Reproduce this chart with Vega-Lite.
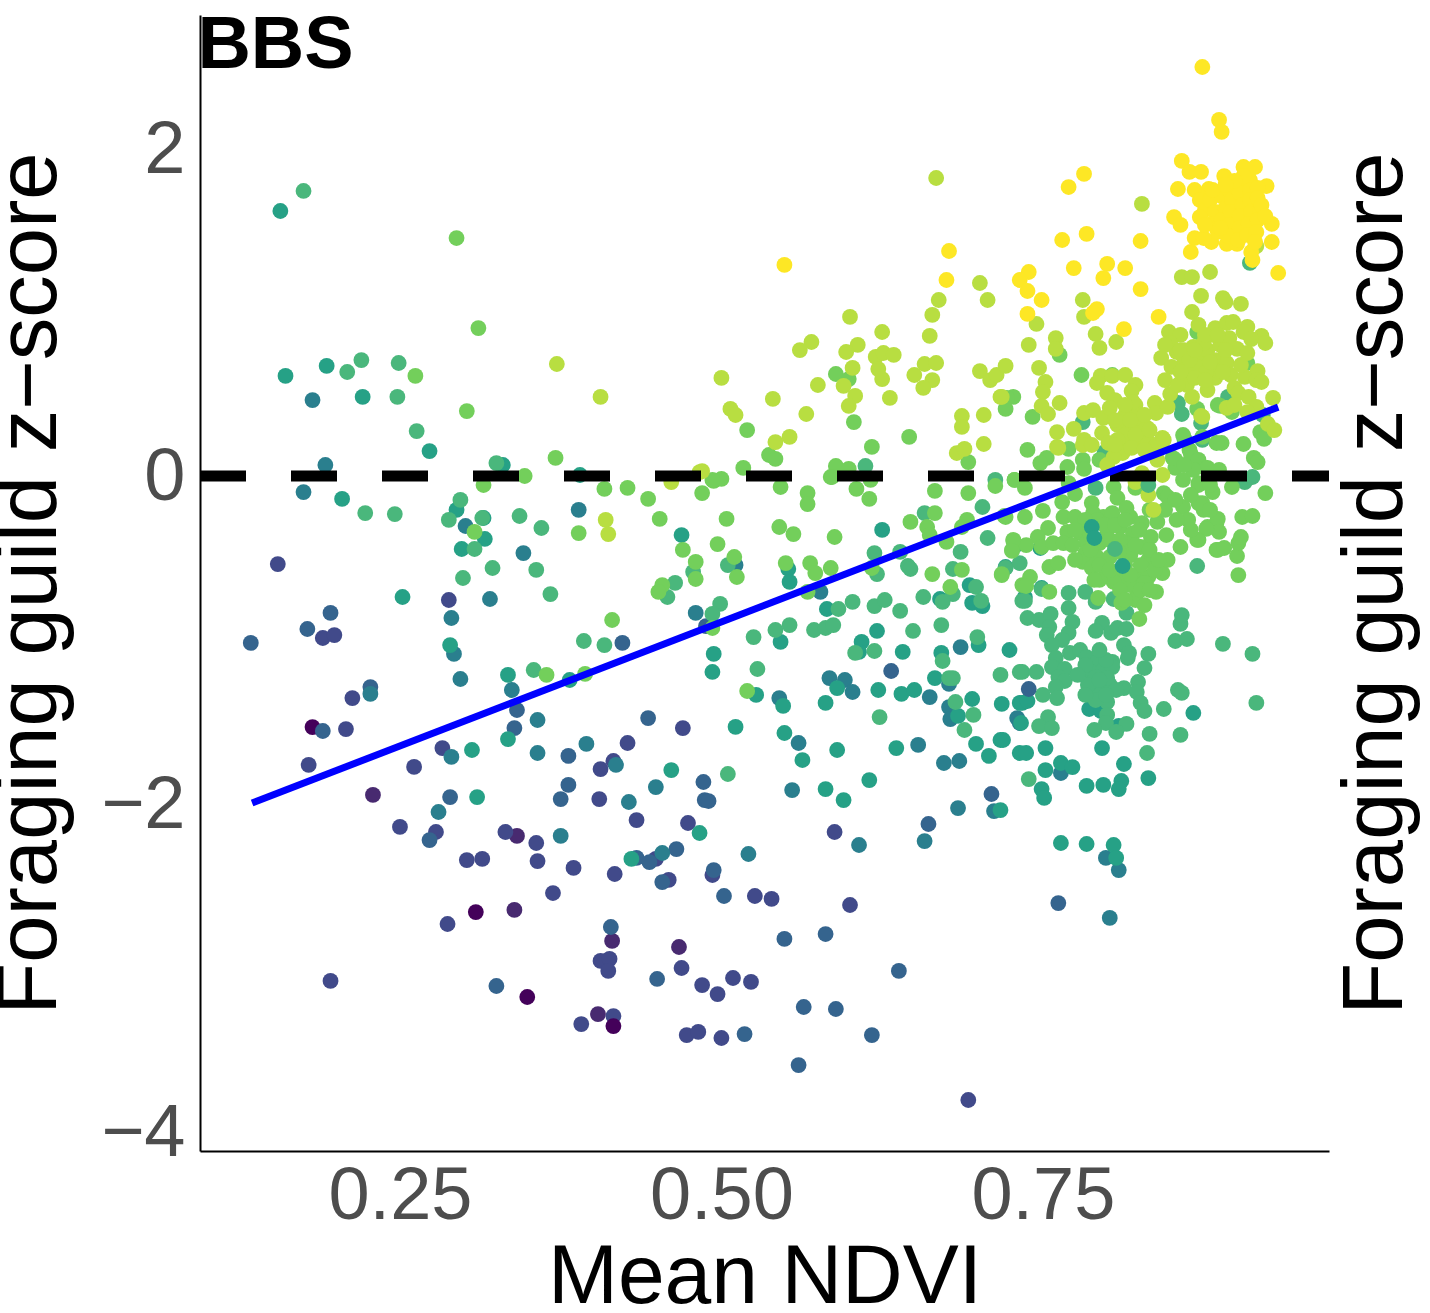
{"$schema":"https://vega.github.io/schema/vega-lite/v6.json","width":1129,"height":1136,"autosize":"none","padding":{"left":200,"top":15,"right":101,"bottom":162},"background":"white","config":{"view":{"stroke":null},"font":"Liberation Sans"},"resolve":{"scale":{"y":"independent"}},"layer":[{"data":{"values":[
{"x":0.182,"y":-1.531,"c":0},{"x":0.309,"y":-2.659,"c":0},{"x":0.349,"y":-3.177,"c":0},
{"x":0.229,"y":-1.945,"c":0.1},{"x":0.341,"y":-2.195,"c":0.1},{"x":0.339,"y":-2.646,"c":0.1},{"x":0.415,"y":-2.835,"c":0.1},{"x":0.467,"y":-2.872,"c":0.1},{"x":0.404,"y":-3.281,"c":0.1},
{"x":0.155,"y":-0.537,"c":0.2},{"x":0.19,"y":-0.988,"c":0.2},{"x":0.199,"y":-0.97,"c":0.2},{"x":0.288,"y":-0.756,"c":0.2},{"x":0.213,"y":-1.354,"c":0.2},{"x":0.208,"y":-1.543,"c":0.2},{"x":0.179,"y":-1.762,"c":0.2},{"x":0.283,"y":-1.659,"c":0.2},{"x":0.261,"y":-1.774,"c":0.2},{"x":0.416,"y":-1.738,"c":0.2},{"x":0.406,"y":-1.787,"c":0.2},{"x":0.405,"y":-1.97,"c":0.2},{"x":0.25,"y":-2.14,"c":0.2},{"x":0.278,"y":-2.171,"c":0.2},{"x":0.332,"y":-2.171,"c":0.2},{"x":0.356,"y":-2.238,"c":0.2},{"x":0.302,"y":-2.342,"c":0.2},{"x":0.314,"y":-2.335,"c":0.2},{"x":0.357,"y":-2.348,"c":0.2},{"x":0.385,"y":-2.39,"c":0.2},{"x":0.434,"y":-2.098,"c":0.2},{"x":0.474,"y":-2.116,"c":0.2},{"x":0.417,"y":-2.427,"c":0.2},{"x":0.449,"y":-2.335,"c":0.2},{"x":0.459,"y":-2.463,"c":0.2},{"x":0.369,"y":-2.543,"c":0.2},{"x":0.287,"y":-2.732,"c":0.2},{"x":0.406,"y":-2.957,"c":0.2},{"x":0.413,"y":-2.945,"c":0.2},{"x":0.412,"y":-3.018,"c":0.2},{"x":0.469,"y":-3.0,"c":0.2},{"x":0.196,"y":-3.079,"c":0.2},{"x":0.416,"y":-3.293,"c":0.2},{"x":0.391,"y":-3.342,"c":0.2},{"x":0.473,"y":-3.409,"c":0.2},{"x":0.482,"y":-3.39,"c":0.2},{"x":0.485,"y":-3.104,"c":0.2},{"x":0.497,"y":-3.159,"c":0.2},{"x":0.509,"y":-3.061,"c":0.2},{"x":0.523,"y":-3.085,"c":0.2},{"x":0.5,"y":-3.427,"c":0.2},{"x":0.6,"y":-2.616,"c":0.2},{"x":0.526,"y":-2.561,"c":0.2},{"x":0.539,"y":-2.579,"c":0.2},{"x":0.692,"y":-3.805,"c":0.2},{"x":0.47,"y":-1.537,"c":0.2},{"x":0.427,"y":-1.628,"c":0.2},{"x":0.588,"y":-2.171,"c":0.2},{"x":0.493,"y":-2.433,"c":0.2},
{"x":0.416,"y":-3.354,"c":0},
{"x":0.196,"y":-0.835,"c":0.3},{"x":0.178,"y":-0.933,"c":0.3},{"x":0.134,"y":-1.018,"c":0.3},{"x":0.227,"y":-1.287,"c":0.3},{"x":0.19,"y":-1.555,"c":0.3},{"x":0.423,"y":-1.018,"c":0.3},{"x":0.341,"y":-1.427,"c":0.3},{"x":0.339,"y":-1.537,"c":0.3},{"x":0.381,"y":-1.707,"c":0.3},{"x":0.381,"y":-1.884,"c":0.3},{"x":0.375,"y":-1.97,"c":0.3},{"x":0.289,"y":-1.958,"c":0.3},{"x":0.273,"y":-2.22,"c":0.3},{"x":0.434,"y":-2.329,"c":0.3},{"x":0.444,"y":-2.354,"c":0.3},{"x":0.465,"y":-2.275,"c":0.3},{"x":0.454,"y":-2.476,"c":0.3},{"x":0.414,"y":-2.75,"c":0.3},{"x":0.45,"y":-3.067,"c":0.3},{"x":0.325,"y":-3.11,"c":0.3},{"x":0.518,"y":-3.403,"c":0.3},{"x":0.564,"y":-3.238,"c":0.3},{"x":0.589,"y":-3.25,"c":0.3},{"x":0.617,"y":-3.409,"c":0.3},{"x":0.56,"y":-3.592,"c":0.3},{"x":0.638,"y":-3.018,"c":0.3},{"x":0.549,"y":-2.823,"c":0.3},{"x":0.581,"y":-2.793,"c":0.3},{"x":0.502,"y":-2.561,"c":0.3},{"x":0.494,"y":-2.403,"c":0.3},{"x":0.443,"y":-1.476,"c":0.3},{"x":0.486,"y":-1.866,"c":0.3},{"x":0.487,"y":-1.976,"c":0.3},{"x":0.49,"y":-1.982,"c":0.3},{"x":0.632,"y":-1.189,"c":0.3},{"x":0.488,"y":-0.915,"c":0.3},{"x":0.661,"y":-2.122,"c":0.3},{"x":0.71,"y":-1.939,"c":0.3},{"x":0.762,"y":-2.604,"c":0.3},
{"x":0.175,"y":-0.098,"c":0.43},{"x":0.182,"y":0.463,"c":0.43},{"x":0.192,"y":0.067,"c":0.43},{"x":0.301,"y":-0.305,"c":0.43},{"x":0.346,"y":-0.47,"c":0.43},{"x":0.389,"y":-0.207,"c":0.43},{"x":0.32,"y":-0.75,"c":0.43},{"x":0.29,"y":-0.866,"c":0.43},{"x":0.292,"y":-1.085,"c":0.43},{"x":0.297,"y":-1.238,"c":0.43},{"x":0.227,"y":-1.329,"c":0.43},{"x":0.337,"y":-1.305,"c":0.43},{"x":0.357,"y":-1.488,"c":0.43},{"x":0.29,"y":-1.713,"c":0.43},{"x":0.357,"y":-1.689,"c":0.43},{"x":0.395,"y":-1.634,"c":0.43},{"x":0.418,"y":-1.762,"c":0.43},{"x":0.28,"y":-2.049,"c":0.43},{"x":0.375,"y":-2.195,"c":0.43},{"x":0.454,"y":-2.299,"c":0.43},{"x":0.577,"y":-0.707,"c":0.43},{"x":0.48,"y":-0.835,"c":0.43},{"x":0.511,"y":-0.543,"c":0.43},{"x":0.545,"y":-1.354,"c":0.43},{"x":0.56,"y":-1.628,"c":0.43},{"x":0.555,"y":-1.915,"c":0.43},{"x":0.584,"y":-1.232,"c":0.43},{"x":0.596,"y":-1.244,"c":0.43},{"x":0.602,"y":-1.317,"c":0.43},{"x":0.662,"y":-1.348,"c":0.43},{"x":0.677,"y":-1.268,"c":0.43},{"x":0.677,"y":-1.409,"c":0.43},{"x":0.678,"y":-1.482,"c":0.43},{"x":0.686,"y":-1.043,"c":0.43},{"x":0.653,"y":-1.64,"c":0.43},{"x":0.685,"y":-1.738,"c":0.43},{"x":0.673,"y":-1.75,"c":0.43},{"x":0.73,"y":-1.476,"c":0.43},{"x":0.732,"y":-1.506,"c":0.43},{"x":0.449,"y":-1.897,"c":0.43},{"x":0.428,"y":-1.988,"c":0.43},{"x":0.521,"y":-2.305,"c":0.43},{"x":0.607,"y":-2.25,"c":0.43},{"x":0.658,"y":-2.226,"c":0.43},{"x":0.684,"y":-2.025,"c":0.43},{"x":0.712,"y":-2.043,"c":0.43},{"x":0.764,"y":-1.811,"c":0.43},{"x":0.799,"y":-2.329,"c":0.43},{"x":0.809,"y":-2.403,"c":0.43},{"x":0.802,"y":-2.695,"c":0.43},
{"x":0.157,"y":1.616,"c":0.55},{"x":0.161,"y":0.61,"c":0.55},{"x":0.193,"y":0.671,"c":0.55},{"x":0.221,"y":0.482,"c":0.55},{"x":0.273,"y":0.152,"c":0.55},{"x":0.205,"y":-0.14,"c":0.55},{"x":0.294,"y":-0.207,"c":0.55},{"x":0.315,"y":-0.256,"c":0.55},{"x":0.316,"y":-0.384,"c":0.55},{"x":0.298,"y":-0.445,"c":0.55},{"x":0.252,"y":-0.738,"c":0.55},{"x":0.289,"y":-1.031,"c":0.55},{"x":0.334,"y":-1.213,"c":0.55},{"x":0.382,"y":-1.244,"c":0.55},{"x":0.334,"y":-1.604,"c":0.55},{"x":0.306,"y":-1.671,"c":0.55},{"x":0.31,"y":-1.958,"c":0.55},{"x":0.39,"y":0.006,"c":0.55},{"x":0.33,"y":0.067,"c":0.55},{"x":0.469,"y":-0.36,"c":0.55},{"x":0.552,"y":-0.567,"c":0.55},{"x":0.553,"y":-0.646,"c":0.55},{"x":0.494,"y":-1.085,"c":0.55},{"x":0.493,"y":-1.195,"c":0.55},{"x":0.546,"y":-1.012,"c":0.55},{"x":0.527,"y":-1.335,"c":0.55},{"x":0.582,"y":-0.811,"c":0.55},{"x":0.621,"y":-0.945,"c":0.55},{"x":0.609,"y":-1.012,"c":0.55},{"x":0.607,"y":-1.073,"c":0.55},{"x":0.641,"y":-1.073,"c":0.55},{"x":0.625,"y":-0.329,"c":0.55},{"x":0.67,"y":-0.75,"c":0.55},{"x":0.695,"y":-0.774,"c":0.55},{"x":0.693,"y":-0.665,"c":0.55},{"x":0.703,"y":-0.793,"c":0.55},{"x":0.7,"y":-1.031,"c":0.55},{"x":0.671,"y":-1.079,"c":0.55},{"x":0.724,"y":-1.061,"c":0.55},{"x":0.59,"y":-1.293,"c":0.55},{"x":0.581,"y":-1.384,"c":0.55},{"x":0.622,"y":-1.305,"c":0.55},{"x":0.64,"y":-1.329,"c":0.55},{"x":0.65,"y":-1.305,"c":0.55},{"x":0.666,"y":-1.232,"c":0.55},{"x":0.548,"y":-1.402,"c":0.55},{"x":0.695,"y":-1.36,"c":0.55},{"x":0.684,"y":-1.463,"c":0.55},{"x":0.718,"y":-1.39,"c":0.55},{"x":0.732,"y":-1.384,"c":0.55},{"x":0.511,"y":-1.53,"c":0.55},{"x":0.549,"y":-1.567,"c":0.55},{"x":0.563,"y":-1.732,"c":0.55},{"x":0.59,"y":-1.671,"c":0.55},{"x":0.636,"y":-1.659,"c":0.55},{"x":0.698,"y":-1.634,"c":0.55},{"x":0.717,"y":-1.61,"c":0.55},{"x":0.708,"y":-1.707,"c":0.55},{"x":0.732,"y":-1.689,"c":0.55},{"x":0.461,"y":-1.793,"c":0.55},{"x":0.581,"y":-1.909,"c":0.55},{"x":0.595,"y":-1.976,"c":0.55},{"x":0.615,"y":-1.854,"c":0.55},{"x":0.483,"y":-2.177,"c":0.55},{"x":0.43,"y":-2.335,"c":0.55},{"x":0.729,"y":-0.421,"c":0.55},{"x":0.734,"y":-1.384,"c":0.55},{"x":0.738,"y":-1.372,"c":0.55},{"x":0.786,"y":-1.421,"c":0.55},{"x":0.795,"y":-1.433,"c":0.55},{"x":0.809,"y":-1.524,"c":0.55},{"x":0.733,"y":-1.506,"c":0.55},{"x":0.748,"y":-0.439,"c":0.55},{"x":0.721,"y":-0.555,"c":0.55},{"x":0.867,"y":-1.445,"c":0.55},{"x":0.796,"y":-1.659,"c":0.55},{"x":0.813,"y":-1.756,"c":0.55},{"x":0.737,"y":-1.689,"c":0.55},{"x":0.752,"y":-1.659,"c":0.55},{"x":0.719,"y":-1.61,"c":0.55},{"x":0.764,"y":-1.75,"c":0.55},{"x":0.773,"y":-1.775,"c":0.55},{"x":0.752,"y":-1.793,"c":0.55},{"x":0.832,"y":-1.842,"c":0.55},{"x":0.749,"y":-1.909,"c":0.55},{"x":0.751,"y":-1.963,"c":0.55},{"x":0.784,"y":-1.89,"c":0.55},{"x":0.797,"y":-1.884,"c":0.55},{"x":0.811,"y":-1.86,"c":0.55},{"x":0.809,"y":-1.909,"c":0.55},{"x":0.717,"y":-2.037,"c":0.55},{"x":0.764,"y":-2.238,"c":0.55},{"x":0.784,"y":-2.244,"c":0.55},{"x":0.805,"y":-2.25,"c":0.55},{"x":0.807,"y":-2.329,"c":0.55},{"x":0.749,"y":-0.683,"c":0.55},{"x":0.736,"y":-0.738,"c":0.55},
{"x":0.175,"y":1.738,"c":0.68},{"x":0.209,"y":0.634,"c":0.68},{"x":0.22,"y":0.707,"c":0.68},{"x":0.249,"y":0.689,"c":0.68},{"x":0.248,"y":0.482,"c":0.68},{"x":0.263,"y":0.274,"c":0.68},{"x":0.325,"y":0.079,"c":0.68},{"x":0.223,"y":-0.226,"c":0.68},{"x":0.246,"y":-0.232,"c":0.68},{"x":0.297,"y":-0.146,"c":0.68},{"x":0.288,"y":-0.268,"c":0.68},{"x":0.308,"y":-0.445,"c":0.68},{"x":0.343,"y":-0.244,"c":0.68},{"x":0.36,"y":-0.317,"c":0.68},{"x":0.322,"y":-0.561,"c":0.68},{"x":0.356,"y":-0.573,"c":0.68},{"x":0.299,"y":-0.622,"c":0.68},{"x":0.367,"y":-0.72,"c":0.68},{"x":0.314,"y":-0.256,"c":0.68},{"x":0.354,"y":-1.183,"c":0.68},{"x":0.393,"y":-1.006,"c":0.68},{"x":0.409,"y":-1.031,"c":0.68},{"x":0.478,"y":-0.585,"c":0.68},{"x":0.505,"y":-0.543,"c":0.68},{"x":0.464,"y":-0.652,"c":0.68},{"x":0.458,"y":-0.738,"c":0.68},{"x":0.499,"y":-0.78,"c":0.68},{"x":0.493,"y":-0.841,"c":0.68},{"x":0.525,"y":-0.982,"c":0.68},{"x":0.542,"y":-0.939,"c":0.68},{"x":0.553,"y":-0.909,"c":0.68},{"x":0.528,"y":-1.177,"c":0.68},{"x":0.591,"y":-0.811,"c":0.68},{"x":0.602,"y":-0.768,"c":0.68},{"x":0.572,"y":-0.939,"c":0.68},{"x":0.581,"y":-0.927,"c":0.68},{"x":0.587,"y":-0.909,"c":0.68},{"x":0.619,"y":-0.793,"c":0.68},{"x":0.627,"y":-0.756,"c":0.68},{"x":0.639,"y":-0.823,"c":0.68},{"x":0.604,"y":-1.079,"c":0.68},{"x":0.619,"y":-1.067,"c":0.68},{"x":0.649,"y":-0.945,"c":0.68},{"x":0.671,"y":-0.909,"c":0.68},{"x":0.657,"y":-0.738,"c":0.68},{"x":0.619,"y":-0.47,"c":0.68},{"x":0.639,"y":-0.463,"c":0.68},{"x":0.621,"y":-0.598,"c":0.68},{"x":0.645,"y":-0.549,"c":0.68},{"x":0.647,"y":-0.567,"c":0.68},{"x":0.658,"y":-0.226,"c":0.68},{"x":0.703,"y":-0.189,"c":0.68},{"x":0.707,"y":-0.378,"c":0.68},{"x":0.686,"y":-0.463,"c":0.68},{"x":0.68,"y":-0.567,"c":0.68},{"x":0.721,"y":-0.561,"c":0.68},{"x":0.732,"y":-0.531,"c":0.68},{"x":0.698,"y":-0.677,"c":0.68},{"x":0.68,"y":-0.72,"c":0.68},{"x":0.672,"y":-0.768,"c":0.68},{"x":0.702,"y":-0.762,"c":0.68},{"x":0.734,"y":-0.762,"c":0.68},{"x":0.699,"y":-0.982,"c":0.68},{"x":0.672,"y":-1.128,"c":0.68},{"x":0.677,"y":-1.232,"c":0.68},{"x":0.68,"y":-1.232,"c":0.68},{"x":0.717,"y":-1.213,"c":0.68},{"x":0.732,"y":-1.195,"c":0.68},{"x":0.682,"y":-1.378,"c":0.68},{"x":0.696,"y":-1.457,"c":0.68},{"x":0.623,"y":-1.47,"c":0.68},{"x":0.689,"y":-1.549,"c":0.68},{"x":0.505,"y":-1.817,"c":0.68},{"x":0.833,"y":-1.573,"c":0.68},
{"x":0.749,"y":-0.689,"c":0.68},{"x":0.77,"y":-0.713,"c":0.68},{"x":0.783,"y":-0.707,"c":0.68},{"x":0.791,"y":-0.768,"c":0.68},{"x":0.805,"y":-0.75,"c":0.68},{"x":0.815,"y":-0.835,"c":0.68},{"x":0.736,"y":-0.762,"c":0.68},{"x":0.77,"y":-0.805,"c":0.68},{"x":0.738,"y":-0.866,"c":0.68},{"x":0.747,"y":-0.878,"c":0.68},{"x":0.756,"y":-0.841,"c":0.68},{"x":0.755,"y":-0.921,"c":0.68},{"x":0.773,"y":-0.89,"c":0.68},{"x":0.796,"y":-0.896,"c":0.68},{"x":0.791,"y":-0.945,"c":0.68},{"x":0.803,"y":-0.957,"c":0.68},{"x":0.808,"y":-0.927,"c":0.68},{"x":0.815,"y":-0.933,"c":0.68},{"x":0.77,"y":-0.957,"c":0.68},{"x":0.753,"y":-0.97,"c":0.68},{"x":0.765,"y":-1.0,"c":0.68},{"x":0.757,"y":-1.031,"c":0.68},{"x":0.771,"y":-1.079,"c":0.68},{"x":0.779,"y":-1.061,"c":0.68},{"x":0.784,"y":-1.104,"c":0.68},{"x":0.813,"y":-1.031,"c":0.68},{"x":0.817,"y":-1.079,"c":0.68},{"x":0.816,"y":-1.11,"c":0.68},{"x":0.832,"y":-1.085,"c":0.68},{"x":0.829,"y":-1.171,"c":0.68},{"x":0.76,"y":-1.11,"c":0.68},{"x":0.757,"y":-1.165,"c":0.68},{"x":0.767,"y":-1.177,"c":0.68},{"x":0.792,"y":-1.134,"c":0.68},{"x":0.804,"y":-1.134,"c":0.68},{"x":0.787,"y":-1.195,"c":0.68},{"x":0.797,"y":-1.183,"c":0.68},{"x":0.804,"y":-1.165,"c":0.68},{"x":0.734,"y":-1.195,"c":0.68},{"x":0.745,"y":-1.195,"c":0.68},{"x":0.762,"y":-1.226,"c":0.68},{"x":0.767,"y":-1.25,"c":0.68},{"x":0.76,"y":-1.287,"c":0.68},{"x":0.789,"y":-1.262,"c":0.68},{"x":0.802,"y":-1.274,"c":0.68},{"x":0.793,"y":-1.323,"c":0.68},{"x":0.791,"y":-1.226,"c":0.68},{"x":0.8,"y":-1.232,"c":0.68},{"x":0.813,"y":-1.293,"c":0.68},{"x":0.824,"y":-1.256,"c":0.68},{"x":0.823,"y":-1.317,"c":0.68},{"x":0.75,"y":-1.335,"c":0.68},{"x":0.761,"y":-1.354,"c":0.68},{"x":0.8,"y":-1.378,"c":0.68},{"x":0.826,"y":-1.384,"c":0.68},{"x":0.829,"y":-1.433,"c":0.68},{"x":0.754,"y":-1.47,"c":0.68},{"x":0.747,"y":-1.525,"c":0.68},{"x":0.757,"y":-1.537,"c":0.68},{"x":0.8,"y":-1.457,"c":0.68},{"x":0.799,"y":-1.506,"c":0.68},{"x":0.815,"y":-1.512,"c":0.68},{"x":0.79,"y":-1.549,"c":0.68},{"x":0.807,"y":-1.561,"c":0.68},{"x":0.857,"y":-1.579,"c":0.68},{"x":0.844,"y":-1.421,"c":0.68},{"x":0.855,"y":-1.305,"c":0.68},{"x":0.858,"y":-1.323,"c":0.68},{"x":0.916,"y":-1.384,"c":0.68},{"x":0.913,"y":-1.085,"c":0.68},{"x":0.89,"y":-1.024,"c":0.68},{"x":0.853,"y":-1.006,"c":0.68},{"x":0.862,"y":-0.994,"c":0.68},{"x":0.857,"y":-0.902,"c":0.68},{"x":0.858,"y":-0.848,"c":0.68},{"x":0.87,"y":-0.549,"c":0.68},{"x":0.907,"y":-0.037,"c":0.68},{"x":0.831,"y":-1.689,"c":0.68},{"x":0.739,"y":-1.848,"c":0.68},{"x":0.612,"y":0.061,"c":0.68},{"x":0.713,"y":-0.024,"c":0.68},{"x":0.781,"y":0.329,"c":0.68},{"x":0.858,"y":0.378,"c":0.68},{"x":0.855,"y":0.445,"c":0.68},{"x":0.894,"y":0.482,"c":0.68},{"x":0.873,"y":0.323,"c":0.68},{"x":0.921,"y":0.372,"c":0.68},{"x":0.86,"y":0.226,"c":0.68},{"x":0.874,"y":0.22,"c":0.68},{"x":0.791,"y":-0.073,"c":0.68},{"x":0.798,"y":0.146,"c":0.68},{"x":0.913,"y":-0.006,"c":0.68},{"x":0.911,"y":1.299,"c":0.68},
{"x":0.783,"y":-1.153,"c":0.68},{"x":0.791,"y":-1.305,"c":0.68},{"x":0.799,"y":-1.122,"c":0.68},{"x":0.796,"y":-1.317,"c":0.68},{"x":0.785,"y":-1.274,"c":0.68},{"x":0.807,"y":-1.305,"c":0.68},{"x":0.794,"y":-1.244,"c":0.68},{"x":0.791,"y":-1.366,"c":0.68},{"x":0.799,"y":-1.335,"c":0.68},{"x":0.783,"y":-1.335,"c":0.68},{"x":0.794,"y":-1.061,"c":0.68},{"x":0.777,"y":-1.213,"c":0.68},
{"x":0.294,"y":1.451,"c":0.8},{"x":0.311,"y":0.902,"c":0.8},{"x":0.262,"y":0.61,"c":0.8},{"x":0.302,"y":0.396,"c":0.8},{"x":0.371,"y":0.11,"c":0.8},{"x":0.315,"y":-0.055,"c":0.8},{"x":0.347,"y":0,"c":0.8},{"x":0.409,"y":-0.079,"c":0.8},{"x":0.308,"y":-0.341,"c":0.8},{"x":0.389,"y":-0.348,"c":0.8},{"x":0.364,"y":-1.213,"c":0.8},{"x":0.394,"y":-1.207,"c":0.8},{"x":0.415,"y":-0.878,"c":0.8},{"x":0.427,"y":-0.073,"c":0.8},{"x":0.443,"y":-0.14,"c":0.8},{"x":0.452,"y":-0.262,"c":0.8},{"x":0.485,"y":-0.104,"c":0.8},{"x":0.494,"y":-0.03,"c":0.8},{"x":0.5,"y":-0.018,"c":0.8},{"x":0.47,"y":-0.451,"c":0.8},{"x":0.497,"y":-0.415,"c":0.8},{"x":0.504,"y":-0.262,"c":0.8},{"x":0.48,"y":-0.524,"c":0.8},{"x":0.48,"y":-0.628,"c":0.8},{"x":0.51,"y":-0.494,"c":0.8},{"x":0.512,"y":-0.616,"c":0.8},{"x":0.454,"y":-0.665,"c":0.8},{"x":0.451,"y":-0.707,"c":0.8},{"x":0.493,"y":-0.927,"c":0.8},{"x":0.52,"y":-1.311,"c":0.8},{"x":0.545,"y":-0.311,"c":0.8},{"x":0.556,"y":-0.354,"c":0.8},{"x":0.588,"y":-0.372,"c":0.8},{"x":0.546,"y":-0.067,"c":0.8},{"x":0.567,"y":-0.104,"c":0.8},{"x":0.567,"y":-0.171,"c":0.8},{"x":0.585,"y":-0.006,"c":0.8},{"x":0.605,"y":-0.079,"c":0.8},{"x":0.615,"y":-0.14,"c":0.8},{"x":0.616,"y":-0.024,"c":0.8},{"x":0.55,"y":-0.531,"c":0.8},{"x":0.569,"y":-0.531,"c":0.8},{"x":0.573,"y":-0.592,"c":0.8},{"x":0.585,"y":-0.561,"c":0.8},{"x":0.567,"y":-0.707,"c":0.8},{"x":0.617,"y":-0.561,"c":0.8},{"x":0.664,"y":-0.598,"c":0.8},{"x":0.647,"y":-0.28,"c":0.8},{"x":0.666,"y":-0.226,"c":0.8},{"x":0.66,"y":-0.311,"c":0.8},{"x":0.662,"y":-0.36,"c":0.8},{"x":0.675,"y":-0.402,"c":0.8},{"x":0.666,"y":-0.091,"c":0.8},{"x":0.692,"y":-0.104,"c":0.8},{"x":0.713,"y":-0.061,"c":0.8},{"x":0.728,"y":-0.024,"c":0.8},{"x":0.721,"y":-0.25,"c":0.8},{"x":0.691,"y":-0.268,"c":0.8},{"x":0.687,"y":-0.311,"c":0.8},{"x":0.687,"y":-0.573,"c":0.8},{"x":0.727,"y":-0.396,"c":0.8},{"x":0.726,"y":-0.451,"c":0.8},{"x":0.718,"y":-0.598,"c":0.8},{"x":0.678,"y":-0.677,"c":0.8},{"x":0.734,"y":-0.665,"c":0.8},{"x":0.589,"y":0.622,"c":0.8},{"x":0.599,"y":0.591,"c":0.8},{"x":0.603,"y":0.329,"c":0.8},{"x":0.646,"y":0.238,"c":0.8},{"x":0.617,"y":0.177,"c":0.8},{"x":0.537,"y":0.128,"c":0.8},{"x":0.542,"y":0.104,"c":0.8},{"x":0.52,"y":0.28,"c":0.8},{"x":0.517,"y":0.049,"c":0.8},{"x":0.589,"y":0.061,"c":0.8},{"x":0.599,"y":0.043,"c":0.8},{"x":0.586,"y":-0.006,"c":0.8},{"x":0.493,"y":-0.024,"c":0.8},{"x":0.692,"y":0.085,"c":0.8},{"x":0.87,"y":0.878,"c":0.8},{"x":0.763,"y":0.738,"c":0.8},{"x":0.78,"y":0.616,"c":0.8},{"x":0.804,"y":0.616,"c":0.8},{"x":0.727,"y":0.482,"c":0.8},{"x":0.722,"y":0.476,"c":0.8},{"x":0.721,"y":0.409,"c":0.8},{"x":0.742,"y":0.36,"c":0.8},{"x":0.77,"y":0.165,"c":0.8},{"x":0.738,"y":0.159,"c":0.8},{"x":0.864,"y":0.628,"c":0.8},{"x":0.909,"y":0.689,"c":0.8},{"x":0.888,"y":0.427,"c":0.8},{"x":0.897,"y":0.39,"c":0.8},{"x":0.87,"y":0.409,"c":0.8},{"x":0.919,"y":0.268,"c":0.8},{"x":0.922,"y":0.226,"c":0.8},{"x":0.889,"y":0.201,"c":0.8},{"x":0.906,"y":0.195,"c":0.8},{"x":0.864,"y":0.159,"c":0.8},
{"x":0.781,"y":0.098,"c":0.8},{"x":0.782,"y":0.043,"c":0.8},{"x":0.794,"y":0.098,"c":0.8},{"x":0.769,"y":0.055,"c":0.8},{"x":0.753,"y":0.11,"c":0.8},{"x":0.748,"y":0.079,"c":0.8},{"x":0.728,"y":-0.024,"c":0.8},{"x":0.736,"y":-0.073,"c":0.8},{"x":0.77,"y":-0.043,"c":0.8},{"x":0.775,"y":-0.11,"c":0.8},{"x":0.765,"y":-0.159,"c":0.8},{"x":0.75,"y":-0.213,"c":0.8},{"x":0.736,"y":-0.25,"c":0.8},{"x":0.805,"y":-0.067,"c":0.8},{"x":0.808,"y":-0.134,"c":0.8},{"x":0.788,"y":-0.165,"c":0.8},{"x":0.815,"y":-0.195,"c":0.8},{"x":0.822,"y":-0.073,"c":0.8},{"x":0.844,"y":-0.104,"c":0.8},{"x":0.853,"y":0.098,"c":0.8},{"x":0.865,"y":0.134,"c":0.8},{"x":0.871,"y":0.098,"c":0.8},{"x":0.859,"y":0.25,"c":0.8},{"x":0.853,"y":0.049,"c":0.8},{"x":0.859,"y":-0.024,"c":0.8},{"x":0.871,"y":-0.043,"c":0.8},{"x":0.876,"y":0.049,"c":0.8},{"x":0.885,"y":0.201,"c":0.8},{"x":0.886,"y":0.433,"c":0.8},{"x":0.874,"y":0.238,"c":0.8},{"x":0.766,"y":-0.25,"c":0.8},{"x":0.775,"y":-0.25,"c":0.8},{"x":0.789,"y":-0.226,"c":0.8},{"x":0.797,"y":-0.25,"c":0.8},{"x":0.804,"y":-0.226,"c":0.8},{"x":0.818,"y":-0.25,"c":0.8},{"x":0.827,"y":-0.287,"c":0.8},{"x":0.839,"y":-0.28,"c":0.8},{"x":0.847,"y":-0.128,"c":0.8},{"x":0.859,"y":-0.189,"c":0.8},{"x":0.863,"y":-0.268,"c":0.8},{"x":0.854,"y":-0.268,"c":0.8},{"x":0.846,"y":-0.36,"c":0.8},{"x":0.834,"y":-0.372,"c":0.8},{"x":0.857,"y":-0.433,"c":0.8},{"x":0.871,"y":-0.39,"c":0.8},{"x":0.878,"y":-0.311,"c":0.8},{"x":0.874,"y":-0.165,"c":0.8},{"x":0.885,"y":-0.287,"c":0.8},{"x":0.885,"y":-0.451,"c":0.8},{"x":0.769,"y":-0.341,"c":0.8},{"x":0.754,"y":-0.317,"c":0.8},{"x":0.746,"y":-0.372,"c":0.8},{"x":0.749,"y":-0.433,"c":0.8},{"x":0.758,"y":-0.409,"c":0.8},{"x":0.766,"y":-0.409,"c":0.8},{"x":0.737,"y":-0.421,"c":0.8},{"x":0.755,"y":-0.555,"c":0.8},{"x":0.762,"y":-0.531,"c":0.8},{"x":0.779,"y":-0.348,"c":0.8},{"x":0.792,"y":-0.268,"c":0.8},{"x":0.8,"y":-0.329,"c":0.8},{"x":0.81,"y":-0.311,"c":0.8},{"x":0.82,"y":-0.348,"c":0.8},{"x":0.784,"y":-0.409,"c":0.8},{"x":0.794,"y":-0.409,"c":0.8},{"x":0.815,"y":-0.409,"c":0.8},{"x":0.826,"y":-0.433,"c":0.8},{"x":0.783,"y":-0.47,"c":0.8},{"x":0.781,"y":-0.524,"c":0.8},{"x":0.792,"y":-0.494,"c":0.8},{"x":0.802,"y":-0.494,"c":0.8},{"x":0.818,"y":-0.482,"c":0.8},{"x":0.832,"y":-0.512,"c":0.8},{"x":0.788,"y":-0.561,"c":0.8},{"x":0.8,"y":-0.604,"c":0.8},{"x":0.81,"y":-0.616,"c":0.8},{"x":0.823,"y":-0.616,"c":0.8},{"x":0.832,"y":-0.616,"c":0.8},{"x":0.843,"y":-0.592,"c":0.8},{"x":0.847,"y":-0.512,"c":0.8},{"x":0.805,"y":-0.646,"c":0.8},{"x":0.818,"y":-0.665,"c":0.8},{"x":0.829,"y":-0.652,"c":0.8},{"x":0.838,"y":-0.707,"c":0.8},{"x":0.822,"y":-0.744,"c":0.8},{"x":0.794,"y":-0.634,"c":0.8},{"x":0.74,"y":-0.616,"c":0.8},{"x":0.737,"y":-0.671,"c":0.8},{"x":0.755,"y":-0.707,"c":0.8},{"x":0.793,"y":-0.744,"c":0.8},{"x":0.811,"y":-0.774,"c":0.8},{"x":0.822,"y":-0.756,"c":0.8},{"x":0.825,"y":-0.872,"c":0.8},{"x":0.72,"y":-0.244,"c":0.8},{"x":0.727,"y":-0.39,"c":0.8},{"x":0.726,"y":-0.457,"c":0.8},{"x":0.718,"y":-0.604,"c":0.8},{"x":0.902,"y":-0.604,"c":0.8},{"x":0.901,"y":-0.488,"c":0.8},{"x":0.886,"y":-0.451,"c":0.8},{"x":0.891,"y":-0.439,"c":0.8},{"x":0.902,"y":-0.409,"c":0.8},{"x":0.904,"y":-0.372,"c":0.8},{"x":0.905,"y":-0.25,"c":0.8},{"x":0.913,"y":-0.244,"c":0.8},{"x":0.886,"y":-0.262,"c":0.8},{"x":0.887,"y":-0.341,"c":0.8},{"x":0.877,"y":-0.323,"c":0.8},{"x":0.87,"y":-0.39,"c":0.8},{"x":0.875,"y":-0.207,"c":0.8},{"x":0.871,"y":-0.165,"c":0.8},{"x":0.882,"y":-0.098,"c":0.8},{"x":0.878,"y":0.049,"c":0.8},{"x":0.897,"y":-0.067,"c":0.8},{"x":0.923,"y":-0.104,"c":0.8},{"x":0.914,"y":0.11,"c":0.8},{"x":0.917,"y":0.085,"c":0.8},{"x":0.871,"y":-0.055,"c":0.8},{"x":0.851,"y":0.11,"c":0.8},
{"x":0.783,"y":-0.268,"c":0.8},{"x":0.798,"y":-0.299,"c":0.8},{"x":0.806,"y":-0.299,"c":0.8},{"x":0.814,"y":-0.268,"c":0.8},{"x":0.825,"y":-0.329,"c":0.8},{"x":0.787,"y":-0.36,"c":0.8},{"x":0.802,"y":-0.39,"c":0.8},{"x":0.81,"y":-0.39,"c":0.8},{"x":0.822,"y":-0.421,"c":0.8},{"x":0.833,"y":-0.451,"c":0.8},{"x":0.787,"y":-0.451,"c":0.8},{"x":0.794,"y":-0.543,"c":0.8},{"x":0.809,"y":-0.463,"c":0.8},{"x":0.814,"y":-0.543,"c":0.8},{"x":0.826,"y":-0.543,"c":0.8},{"x":0.837,"y":-0.573,"c":0.8},{"x":0.802,"y":-0.573,"c":0.8},{"x":0.79,"y":-0.634,"c":0.8},{"x":0.81,"y":-0.695,"c":0.8},{"x":0.818,"y":-0.604,"c":0.8},{"x":0.826,"y":-0.695,"c":0.8},{"x":0.833,"y":-0.695,"c":0.8},{"x":0.814,"y":-0.756,"c":0.8},{"x":0.829,"y":-0.787,"c":0.8},{"x":0.84,"y":-0.512,"c":0.8},{"x":0.775,"y":-0.329,"c":0.8},{"x":0.773,"y":-0.421,"c":0.8},{"x":0.775,"y":-0.512,"c":0.8},{"x":0.833,"y":-0.207,"c":0.8},{"x":0.845,"y":-0.207,"c":0.8},{"x":0.853,"y":-0.146,"c":0.8},{"x":0.865,"y":-0.116,"c":0.8},{"x":0.865,"y":-0.329,"c":0.8},{"x":0.88,"y":-0.207,"c":0.8},{"x":0.88,"y":-0.055,"c":0.8},{"x":0.867,"y":0.037,"c":0.8},{"x":0.887,"y":0.037,"c":0.8},{"x":0.86,"y":0.067,"c":0.8},
{"x":0.372,"y":0.683,"c":0.9},{"x":0.406,"y":0.482,"c":0.9},{"x":0.461,"y":-0.037,"c":0.9},{"x":0.483,"y":0.024,"c":0.9},{"x":0.41,"y":-0.268,"c":0.9},{"x":0.412,"y":-0.354,"c":0.9},{"x":0.667,"y":1.817,"c":0.9},{"x":0.701,"y":1.177,"c":0.9},{"x":0.707,"y":1.073,"c":0.9},{"x":0.669,"y":1.073,"c":0.9},{"x":0.664,"y":0.982,"c":0.9},{"x":0.662,"y":0.854,"c":0.9},{"x":0.6,"y":0.97,"c":0.9},{"x":0.625,"y":0.878,"c":0.9},{"x":0.57,"y":0.817,"c":0.9},{"x":0.561,"y":0.768,"c":0.9},{"x":0.606,"y":0.799,"c":0.9},{"x":0.597,"y":0.756,"c":0.9},{"x":0.62,"y":0.726,"c":0.9},{"x":0.626,"y":0.75,"c":0.9},{"x":0.634,"y":0.738,"c":0.9},{"x":0.602,"y":0.659,"c":0.9},{"x":0.622,"y":0.652,"c":0.9},{"x":0.625,"y":0.591,"c":0.9},{"x":0.595,"y":0.549,"c":0.9},{"x":0.575,"y":0.555,"c":0.9},{"x":0.604,"y":0.488,"c":0.9},{"x":0.599,"y":0.427,"c":0.9},{"x":0.54,"y":0.47,"c":0.9},{"x":0.566,"y":0.378,"c":0.9},{"x":0.631,"y":0.476,"c":0.9},{"x":0.658,"y":0.683,"c":0.9},{"x":0.667,"y":0.689,"c":0.9},{"x":0.65,"y":0.616,"c":0.9},{"x":0.664,"y":0.585,"c":0.9},{"x":0.657,"y":0.537,"c":0.9},{"x":0.701,"y":0.64,"c":0.9},{"x":0.709,"y":0.585,"c":0.9},{"x":0.714,"y":0.616,"c":0.9},{"x":0.717,"y":0.482,"c":0.9},{"x":0.687,"y":0.366,"c":0.9},{"x":0.687,"y":0.299,"c":0.9},{"x":0.704,"y":0.372,"c":0.9},{"x":0.704,"y":0.195,"c":0.9},{"x":0.683,"y":0.14,"c":0.9},{"x":0.689,"y":0.165,"c":0.9},{"x":0.553,"y":0.238,"c":0.9},{"x":0.542,"y":0.207,"c":0.9},{"x":0.507,"y":0.409,"c":0.9},{"x":0.511,"y":0.372,"c":0.9},{"x":0.5,"y":0.598,"c":0.9},{"x":0.485,"y":0.03,"c":0.9},{"x":0.827,"y":1.659,"c":0.9},{"x":0.916,"y":1.402,"c":0.9},{"x":0.858,"y":1.213,"c":0.9},{"x":0.866,"y":1.213,"c":0.9},{"x":0.88,"y":1.244,"c":0.9},{"x":0.873,"y":1.098,"c":0.9},{"x":0.89,"y":1.085,"c":0.9},{"x":0.892,"y":1.061,"c":0.9},{"x":0.904,"y":1.049,"c":0.9},{"x":0.866,"y":1.0,"c":0.9},{"x":0.871,"y":0.921,"c":0.9},{"x":0.781,"y":1.073,"c":0.9},{"x":0.782,"y":0.97,"c":0.9},{"x":0.745,"y":0.927,"c":0.9},{"x":0.76,"y":0.841,"c":0.9},{"x":0.739,"y":0.799,"c":0.9},{"x":0.76,"y":0.775,"c":0.9},{"x":0.791,"y":0.866,"c":0.9},{"x":0.807,"y":0.817,"c":0.9},{"x":0.794,"y":0.781,"c":0.9},{"x":0.721,"y":0.671,"c":0.9},{"x":0.747,"y":0.659,"c":0.9},{"x":0.752,"y":0.573,"c":0.9},{"x":0.75,"y":0.512,"c":0.9},{"x":0.795,"y":0.61,"c":0.9},{"x":0.804,"y":0.61,"c":0.9},{"x":0.814,"y":0.616,"c":0.9},{"x":0.792,"y":0.567,"c":0.9},{"x":0.822,"y":0.555,"c":0.9},{"x":0.819,"y":0.518,"c":0.9},{"x":0.8,"y":0.506,"c":0.9},{"x":0.806,"y":0.463,"c":0.9},{"x":0.763,"y":0.445,"c":0.9},{"x":0.749,"y":0.427,"c":0.9},{"x":0.754,"y":0.378,"c":0.9},{"x":0.718,"y":0.482,"c":0.9},{"x":0.782,"y":0.384,"c":0.9},{"x":0.789,"y":0.402,"c":0.9},{"x":0.761,"y":0.268,"c":0.9},{"x":0.774,"y":0.287,"c":0.9},{"x":0.797,"y":0.354,"c":0.9},{"x":0.802,"y":0.415,"c":0.9},{"x":0.808,"y":0.311,"c":0.9},{"x":0.822,"y":0.433,"c":0.9},{"x":0.837,"y":0.445,"c":0.9},{"x":0.838,"y":0.384,"c":0.9},{"x":0.847,"y":0.421,"c":0.9},{"x":0.822,"y":0.341,"c":0.9},{"x":0.824,"y":0.262,"c":0.9},{"x":0.831,"y":0.293,"c":0.9},{"x":0.796,"y":0.262,"c":0.9},{"x":0.801,"y":0.201,"c":0.9},{"x":0.782,"y":0.22,"c":0.9},{"x":0.761,"y":0.177,"c":0.9},{"x":0.843,"y":0.232,"c":0.9},{"x":0.826,"y":0.22,"c":0.9},{"x":0.815,"y":0.177,"c":0.9},{"x":0.833,"y":0.201,"c":0.9},{"x":0.762,"y":0.171,"c":0.9},{"x":0.781,"y":0.189,"c":0.9},{"x":0.788,"y":0.189,"c":0.9},{"x":0.823,"y":0.384,"c":0.9},{"x":0.82,"y":0.451,"c":0.9},{"x":0.818,"y":0.28,"c":0.9},{"x":0.828,"y":0.238,"c":0.9},{"x":0.839,"y":0.177,"c":0.9},{"x":0.844,"y":0.22,"c":0.9},{"x":0.812,"y":0.14,"c":0.9},{"x":0.805,"y":0.116,"c":0.9},{"x":0.8,"y":0.067,"c":0.9},{"x":0.827,"y":0.018,"c":0.9},{"x":0.822,"y":-0.037,"c":0.9},{"x":0.832,"y":-0.116,"c":0.9},{"x":0.836,"y":-0.207,"c":0.9},{"x":0.839,"y":0.098,"c":0.9},{"x":0.843,"y":0.006,"c":0.9},
{"x":0.814,"y":0.372,"c":0.9},{"x":0.814,"y":0.433,"c":0.9},{"x":0.818,"y":0.341,"c":0.9},{"x":0.806,"y":0.341,"c":0.9},{"x":0.814,"y":0.25,"c":0.9},{"x":0.822,"y":0.25,"c":0.9},{"x":0.829,"y":0.372,"c":0.9},{"x":0.808,"y":0.22,"c":0.9},{"x":0.819,"y":0.171,"c":0.9},{"x":0.829,"y":0.159,"c":0.9},{"x":0.806,"y":0.189,"c":0.9},{"x":0.833,"y":0.28,"c":0.9},
{"x":0.848,"y":0.878,"c":0.9},{"x":0.857,"y":0.86,"c":0.9},{"x":0.849,"y":0.811,"c":0.9},{"x":0.854,"y":0.756,"c":0.9},{"x":0.842,"y":0.72,"c":0.9},{"x":0.85,"y":0.665,"c":0.9},{"x":0.845,"y":0.585,"c":0.9},{"x":0.862,"y":0.555,"c":0.9},{"x":0.849,"y":0.5,"c":0.9},{"x":0.866,"y":0.482,"c":0.9},{"x":0.878,"y":0.524,"c":0.9},{"x":0.884,"y":0.598,"c":0.9},{"x":0.867,"y":0.787,"c":0.9},{"x":0.872,"y":0.726,"c":0.9},{"x":0.878,"y":0.768,"c":0.9},{"x":0.885,"y":0.707,"c":0.9},{"x":0.882,"y":0.646,"c":0.9},{"x":0.87,"y":0.665,"c":0.9},{"x":0.893,"y":0.689,"c":0.9},{"x":0.896,"y":0.616,"c":0.9},{"x":0.875,"y":0.811,"c":0.9},{"x":0.888,"y":0.799,"c":0.9},{"x":0.882,"y":0.86,"c":0.9},{"x":0.884,"y":0.902,"c":0.9},{"x":0.893,"y":0.933,"c":0.9},{"x":0.898,"y":0.939,"c":0.9},{"x":0.909,"y":0.909,"c":0.9},{"x":0.906,"y":0.878,"c":0.9},{"x":0.92,"y":0.854,"c":0.9},{"x":0.912,"y":0.835,"c":0.9},{"x":0.923,"y":0.811,"c":0.9},{"x":0.895,"y":0.841,"c":0.9},{"x":0.901,"y":0.775,"c":0.9},{"x":0.909,"y":0.75,"c":0.9},{"x":0.917,"y":0.64,"c":0.9},{"x":0.907,"y":0.604,"c":0.9},{"x":0.916,"y":0.585,"c":0.9},{"x":0.92,"y":0.573,"c":0.9},{"x":0.899,"y":0.537,"c":0.9},{"x":0.902,"y":0.506,"c":0.9},{"x":0.91,"y":0.482,"c":0.9},{"x":0.929,"y":0.476,"c":0.9},{"x":0.893,"y":0.415,"c":0.9},{"x":0.899,"y":0.433,"c":0.9},{"x":0.916,"y":0.421,"c":0.9},{"x":0.909,"y":0.39,"c":0.9},{"x":0.873,"y":0.366,"c":0.9},{"x":0.925,"y":0.317,"c":0.9},{"x":0.93,"y":0.28,"c":0.9},{"x":0.874,"y":0.36,"c":0.9},{"x":0.86,"y":0.707,"c":0.9},{"x":0.86,"y":0.768,"c":0.9},{"x":0.892,"y":0.768,"c":0.9},{"x":0.877,"y":0.634,"c":0.9},
{"x":0.857,"y":0.768,"c":0.9},{"x":0.86,"y":0.646,"c":0.9},{"x":0.855,"y":0.555,"c":0.9},{"x":0.868,"y":0.598,"c":0.9},{"x":0.876,"y":0.585,"c":0.9},{"x":0.864,"y":0.707,"c":0.9},{"x":0.88,"y":0.695,"c":0.9},{"x":0.89,"y":0.634,"c":0.9},{"x":0.876,"y":0.86,"c":0.9},{"x":0.868,"y":0.768,"c":0.9},{"x":0.886,"y":0.86,"c":0.9},{"x":0.857,"y":0.634,"c":0.9},{"x":0.845,"y":0.799,"c":0.9},{"x":0.904,"y":0.677,"c":0.9},
{"x":0.812,"y":-0.549,"c":0.55},{"x":0.788,"y":-0.311,"c":0.55},{"x":0.79,"y":-0.378,"c":0.55},{"x":0.806,"y":-0.445,"c":0.68},{"x":0.832,"y":-0.055,"c":0.68},{"x":0.739,"y":-1.299,"c":0.3},
{"x":0.549,"y":1.287,"c":1},{"x":0.677,"y":1.372,"c":1},{"x":0.675,"y":1.195,"c":1},{"x":0.874,"y":2.494,"c":1},{"x":0.887,"y":2.171,"c":1},{"x":0.889,"y":2.098,"c":1},{"x":0.858,"y":1.921,"c":1},{"x":0.864,"y":1.854,"c":1},{"x":0.873,"y":1.854,"c":1},{"x":0.891,"y":1.829,"c":1},{"x":0.906,"y":1.884,"c":1},{"x":0.915,"y":1.884,"c":1},{"x":0.924,"y":1.768,"c":1},{"x":0.855,"y":1.75,"c":1},{"x":0.868,"y":1.744,"c":1},{"x":0.879,"y":1.75,"c":1},{"x":0.782,"y":1.842,"c":1},{"x":0.77,"y":1.762,"c":1},{"x":0.852,"y":1.579,"c":1},{"x":0.857,"y":1.531,"c":1},{"x":0.868,"y":1.451,"c":1},{"x":0.881,"y":1.427,"c":1},{"x":0.875,"y":1.451,"c":1},{"x":0.928,"y":1.537,"c":1},{"x":0.928,"y":1.427,"c":1},{"x":0.893,"y":1.415,"c":1},{"x":0.901,"y":1.415,"c":1},{"x":0.865,"y":1.366,"c":1},{"x":0.912,"y":1.366,"c":1},{"x":0.913,"y":1.317,"c":1},{"x":0.933,"y":1.238,"c":1},{"x":0.784,"y":1.476,"c":1},{"x":0.765,"y":1.439,"c":1},{"x":0.826,"y":1.433,"c":1},{"x":0.774,"y":1.268,"c":1},{"x":0.8,"y":1.293,"c":1},{"x":0.797,"y":1.207,"c":1},{"x":0.814,"y":1.268,"c":1},{"x":0.826,"y":1.14,"c":1},{"x":0.739,"y":1.244,"c":1},{"x":0.732,"y":1.195,"c":1},{"x":0.738,"y":1.128,"c":1},{"x":0.749,"y":1.073,"c":1},{"x":0.738,"y":0.988,"c":1},{"x":0.792,"y":1.018,"c":1},{"x":0.789,"y":0.994,"c":1},{"x":0.84,"y":0.97,"c":1},{"x":0.813,"y":0.896,"c":1},
{"x":0.872,"y":1.683,"c":1},{"x":0.876,"y":1.622,"c":1},{"x":0.872,"y":1.579,"c":1},{"x":0.88,"y":1.683,"c":1},{"x":0.884,"y":1.61,"c":1},{"x":0.881,"y":1.537,"c":1},{"x":0.889,"y":1.707,"c":1},{"x":0.892,"y":1.634,"c":1},{"x":0.889,"y":1.561,"c":1},{"x":0.886,"y":1.488,"c":1},{"x":0.895,"y":1.744,"c":1},{"x":0.897,"y":1.683,"c":1},{"x":0.896,"y":1.61,"c":1},{"x":0.895,"y":1.531,"c":1},{"x":0.894,"y":1.463,"c":1},{"x":0.903,"y":1.793,"c":1},{"x":0.903,"y":1.726,"c":1},{"x":0.905,"y":1.652,"c":1},{"x":0.903,"y":1.585,"c":1},{"x":0.903,"y":1.512,"c":1},{"x":0.902,"y":1.439,"c":1},{"x":0.911,"y":1.805,"c":1},{"x":0.911,"y":1.744,"c":1},{"x":0.911,"y":1.683,"c":1},{"x":0.912,"y":1.61,"c":1},{"x":0.91,"y":1.537,"c":1},{"x":0.909,"y":1.47,"c":1},{"x":0.917,"y":1.756,"c":1},{"x":0.917,"y":1.695,"c":1},{"x":0.919,"y":1.622,"c":1},{"x":0.917,"y":1.561,"c":1},{"x":0.916,"y":1.488,"c":1},{"x":0.92,"y":1.652,"c":1},{"x":0.923,"y":1.585,"c":1},{"x":0.906,"y":1.829,"c":1},{"x":0.899,"y":1.799,"c":1},{"x":0.882,"y":1.744,"c":1},{"x":0.892,"y":1.775,"c":1},{"x":0.876,"y":1.531,"c":1},{"x":0.888,"y":1.512,"c":1},{"x":0.915,"y":1.427,"c":1}
]},"mark":{"type":"point","filled":true,"size":250,"opacity":1},"encoding":{"x":{"field":"x","type":"quantitative","scale":{"domain":[0.0945,0.9725],"nice":false,"zero":false},"axis":{"title":"Mean NDVI","values":[0.25,0.5,0.75],"format":".2f","grid":false,"ticks":false,"domainColor":"black","domainWidth":2,"labelColor":"#4d4d4d","labelFontSize":74,"labelPadding":9,"titleFontSize":84,"titleFontWeight":"normal","titleColor":"black","titlePadding":3}},"y":{"field":"y","type":"quantitative","scale":{"domain":[-4.116,2.811],"nice":false,"zero":false},"axis":{"title":"Foraging guild z−score","values":[-4,-2,0,2],"grid":false,"ticks":false,"domainColor":"black","domainWidth":2,"labelColor":"#4d4d4d","labelFontSize":74,"labelPadding":15,"labelOffset":2,"titleFontSize":85,"titleFontWeight":"normal","titleColor":"black","titlePadding":27}},"color":{"field":"c","type":"quantitative","scale":{"domain":[0,0.1,0.2,0.3,0.43,0.55,0.68,0.8,0.9,1],"range":["#44015a","#482a70","#414a8a","#35648e","#2a7f8e","#26a186","#4ab77c","#73cf5b","#b8de41","#fde725"]},"legend":null}}},{"data":{"values":[{"x":0.0945,"y":0},{"x":0.9725,"y":0}]},"mark":{"type":"line","color":"black","strokeWidth":11,"strokeDash":[46,45]},"encoding":{"x":{"field":"x","type":"quantitative"},"y":{"field":"y","type":"quantitative","scale":{"domain":[-4.116,2.811],"nice":false,"zero":false},"axis":null}}},{"data":{"values":[{"x":0.135,"y":-1.994},{"x":0.933,"y":0.42}]},"mark":{"type":"line","color":"#0000ff","strokeWidth":7},"encoding":{"x":{"field":"x","type":"quantitative"},"y":{"field":"y","type":"quantitative","scale":{"domain":[-4.116,2.811],"nice":false,"zero":false},"axis":null}}},{"data":{"values":[{"x":0.0925,"y":2.485,"label":"BBS"}]},"mark":{"type":"text","align":"left","baseline":"alphabetic","fontSize":74,"fontWeight":"bold","color":"black","font":"Liberation Sans"},"encoding":{"x":{"field":"x","type":"quantitative"},"y":{"field":"y","type":"quantitative","scale":{"domain":[-4.116,2.811],"nice":false,"zero":false},"axis":{"orient":"right","title":"Foraging guild z−score","labels":false,"ticks":false,"domain":false,"grid":false,"titleFontSize":85,"titleFontWeight":"normal","titleColor":"black","titleAngle":270,"titlePadding":90}},"text":{"field":"label"}}}]}
